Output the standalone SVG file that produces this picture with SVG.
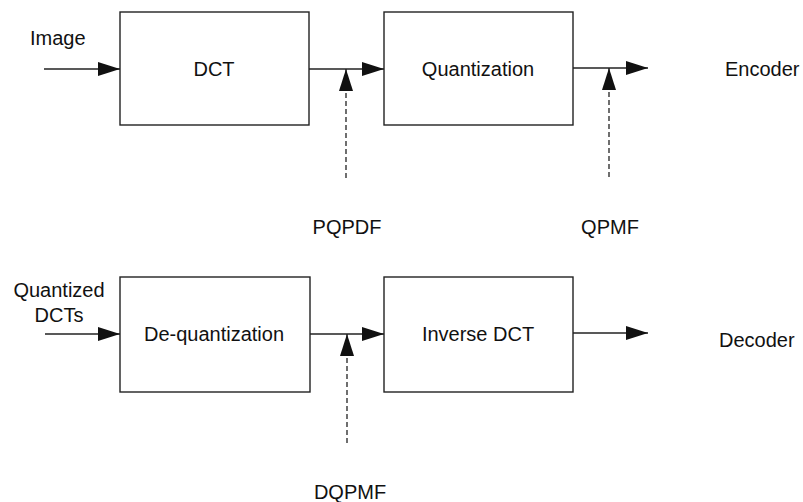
<svg xmlns="http://www.w3.org/2000/svg" width="803" height="502" viewBox="0 0 803 502">
<style>
.box{fill:#fff;stroke:#222;stroke-width:1.4}
.t{font-family:"Liberation Sans",Arial,sans-serif;font-size:20px;fill:#111}
.c{text-anchor:middle}
.ln{stroke:#222;stroke-width:1.3;fill:none}
.ds{stroke:#222;stroke-width:1.3;fill:none;stroke-dasharray:5 3}
</style>
<defs>
<marker id="ah" markerUnits="userSpaceOnUse" markerWidth="23" markerHeight="15" refX="22" refY="7" orient="auto">
<path d="M0,0 L22,7 L0,14 z" fill="#111"/>
</marker>
</defs>
<rect width="803" height="502" fill="#fff"/>
<g id="dct"><rect class="box" x="120" y="12" width="189" height="113"/><text class="t c" x="214" y="76">DCT</text></g>
<g id="quant"><rect class="box" x="384" y="12" width="189" height="113"/><text class="t c" x="478" y="76">Quantization</text></g>
<g id="dequant"><rect class="box" x="120" y="277" width="190" height="115"/><text class="t c" x="214" y="341">De-quantization</text></g>
<g id="idct"><rect class="box" x="384" y="277" width="189" height="115"/><text class="t c" x="478" y="341">Inverse DCT</text></g>
<g id="labels">
<text class="t" x="30" y="45">Image</text>
<text class="t" x="725" y="76">Encoder</text>
<text class="t" x="719" y="347">Decoder</text>
<text class="t c" x="59" y="297">Quantized</text>
<text class="t c" x="59" y="322">DCTs</text>
<text class="t c" x="347" y="234">PQPDF</text>
<text class="t c" x="610" y="234">QPMF</text>
<text class="t c" x="350" y="499">DQPMF</text>
</g>
<g id="connectors">
<line class="ln" x1="44" y1="69" x2="120" y2="69" marker-end="url(#ah)"/>
<line class="ln" x1="309" y1="69" x2="384" y2="69" marker-end="url(#ah)"/>
<line class="ln" x1="573" y1="68" x2="648" y2="68" marker-end="url(#ah)"/>
<line class="ds" x1="346" y1="178" x2="346" y2="69" marker-end="url(#ah)"/>
<line class="ds" x1="609" y1="177" x2="609" y2="68" marker-end="url(#ah)"/>
<line class="ln" x1="45" y1="334" x2="120" y2="334" marker-end="url(#ah)"/>
<line class="ln" x1="310" y1="334" x2="384" y2="334" marker-end="url(#ah)"/>
<line class="ln" x1="573" y1="333" x2="648" y2="333" marker-end="url(#ah)"/>
<line class="ds" x1="347" y1="443" x2="347" y2="334" marker-end="url(#ah)"/>
</g>
</svg>
